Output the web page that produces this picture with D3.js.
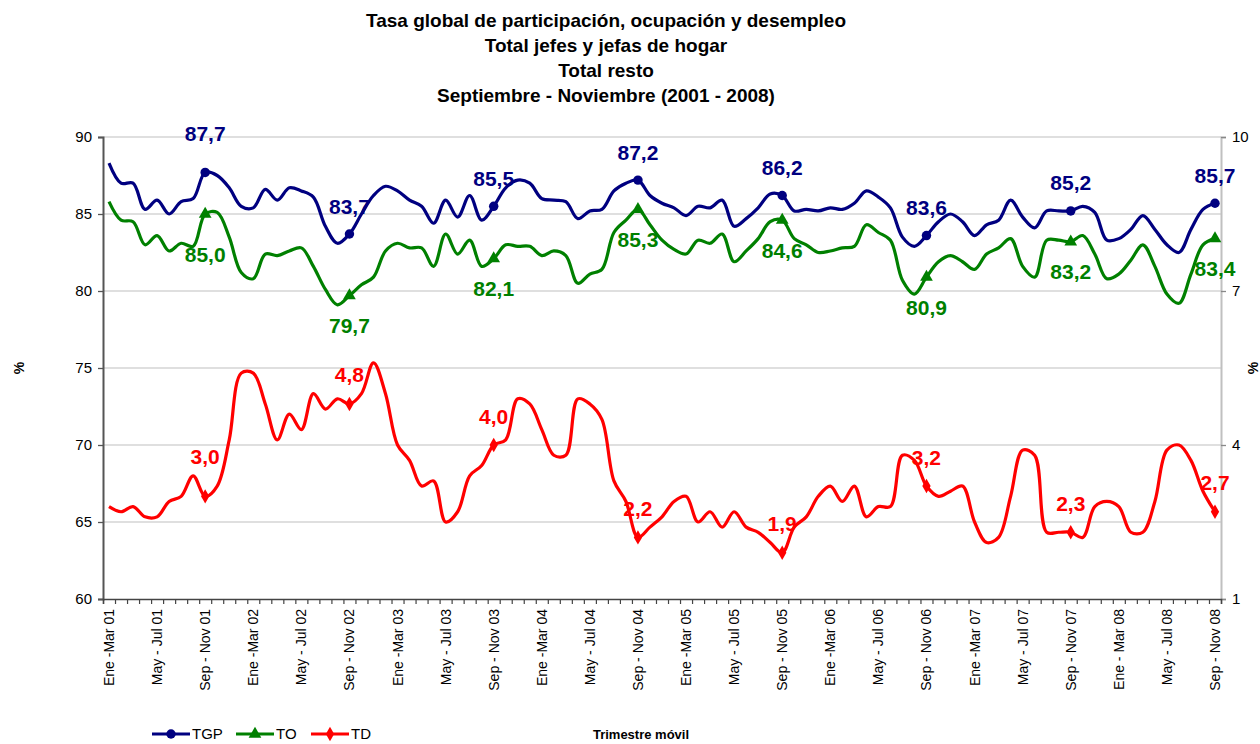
<!DOCTYPE html>
<html>
<head>
<meta charset="utf-8">
<script src="https://cdn.jsdelivr.net/npm/d3@7"></script>
<style>
  body { margin: 0; background: #fff; }
  svg { font-family: "Liberation Sans", Arial, sans-serif; display: block; }
</style>
</head>
<body>
<div id="chart"></div>
<script>
// data, one value per moving quarter (Ene-Mar 01 .. Sep-Nov 08)
const tgp = [88.3, 87.0, 87.0, 85.3, 85.9, 85.0, 85.8, 86.0, 87.7, 87.5, 86.7, 85.5,
  85.4, 86.6, 85.9, 86.7, 86.5, 86.1, 84.2, 83.1, 83.7, 85.0, 86.2, 86.8,
  86.5, 85.9, 85.5, 84.4, 85.9, 84.8, 86.2, 84.6, 85.5, 86.7, 87.2, 87.0,
  86.0, 85.9, 85.8, 84.7, 85.2, 85.3, 86.5, 87.0, 87.2, 86.2, 85.7, 85.4,
  84.9, 85.5, 85.4, 85.9, 84.2, 84.7, 85.4, 86.3, 86.2, 85.2, 85.3, 85.2,
  85.4, 85.3, 85.7, 86.5, 86.1, 85.4, 83.5, 82.9, 83.6, 84.5, 85.0, 84.5,
  83.6, 84.3, 84.6, 85.9, 84.8, 84.1, 85.2, 85.2, 85.2, 85.5, 85.1, 83.3,
  83.4, 84.0, 84.9, 84.0, 83.0, 82.5, 84.0, 85.3, 85.7]

const to = [85.8, 84.6, 84.5, 83.0, 83.6, 82.6, 83.1, 82.9, 85.0, 85.1, 83.5, 81.2,
  80.8, 82.4, 82.3, 82.6, 82.8, 81.6, 80.1, 79.1, 79.7, 80.4, 80.9, 82.6,
  83.1, 82.8, 82.8, 81.6, 83.7, 82.4, 83.3, 81.6, 82.1, 83.0, 82.9, 82.9,
  82.3, 82.6, 82.3, 80.5, 81.1, 81.4, 83.8, 84.6, 85.3, 84.3, 83.3, 82.7,
  82.4, 83.3, 83.1, 83.7, 81.9, 82.6, 83.4, 84.5, 84.6, 83.4, 83.0, 82.5,
  82.6, 82.8, 82.9, 84.3, 83.8, 83.3, 80.7, 79.8, 80.9, 81.9, 82.3, 81.9,
  81.4, 82.4, 82.8, 83.4, 81.6, 80.9, 83.3, 83.3, 83.2, 83.6, 82.4, 80.8,
  81.1, 82.0, 83.0, 81.6, 79.8, 79.2, 81.1, 83.0, 83.4]

const td = [2.8, 2.7, 2.8, 2.6, 2.6, 2.9, 3.0, 3.4, 3.0, 3.2, 4.1, 5.4,
  5.4, 4.8, 4.1, 4.6, 4.3, 5.0, 4.7, 4.9, 4.8, 5.0, 5.6, 5.0,
  4.0, 3.7, 3.2, 3.3, 2.5, 2.7, 3.4, 3.6, 4.0, 4.1, 4.9, 4.8,
  4.3, 3.8, 3.8, 4.9, 4.8, 4.5, 3.3, 2.9, 2.2, 2.4, 2.6, 2.9,
  3.0, 2.5, 2.7, 2.4, 2.7, 2.4, 2.3, 2.1, 1.9, 2.4, 2.6, 3.0,
  3.2, 2.9, 3.2, 2.6, 2.8, 2.8, 3.8, 3.7, 3.2, 3.0, 3.1, 3.2,
  2.5, 2.1, 2.2, 3.0, 3.9, 3.8, 2.3, 2.3, 2.3, 2.2, 2.8, 2.9,
  2.8, 2.3, 2.3, 2.9, 3.9, 4.0, 3.7, 3.1, 2.7]

const tickLabels = ["Ene -Mar 01", "May - Jul 01", "Sep - Nov 01",
  "Ene -Mar 02", "May - Jul 02", "Sep - Nov 02",
  "Ene -Mar 03", "May - Jul 03", "Sep - Nov 03",
  "Ene -Mar 04", "May - Jul 04", "Sep - Nov 04",
  "Ene -Mar 05", "May - Jul 05", "Sep - Nov 05",
  "Ene -Mar 06", "May - Jul 06", "Sep - Nov 06",
  "Ene -Mar 07", "May - Jul 07", "Sep - Nov 07",
  "Ene - Mar 08", "May - Jul 08", "Sep - Nov 08"]

// Sep - Nov quarters carry a marker and a label
const markedIdx = [8, 20, 32, 44, 56, 68, 80, 92]

const leftTicks = [60, 65, 70, 75, 80, 85, 90]
const rightTicks = [1, 4, 7, 10]

const titleLines = ["Tasa global de participación, ocupación y desempleo",
  "Total jefes y jefas de hogar", "Total resto",
  "Septiembre - Noviembre (2001 - 2008)"]

// layout
const W = 1260, H = 744
const plot = {left: 103, right: 1221, top: 137, bottom: 599}

const svg = d3.select("#chart").append("svg")
    .attr("width", W)
    .attr("height", H)

const x = d3.scaleBand()
    .domain(d3.range(tgp.length))
    .range([plot.left, plot.right])
    .padding(0)
const xc = i => x(i) + x.bandwidth() / 2

const xEdges = d3.scaleLinear()
    .domain([0, tgp.length])
    .range([plot.left, plot.right])

const yL = d3.scaleLinear().domain([60, 90]).range([plot.bottom, plot.top])
const yR = d3.scaleLinear().domain([1, 10]).range([plot.bottom, plot.top])

// gridlines
svg.append("g")
    .selectAll("line")
    .data(leftTicks.filter(d => d > 60))
    .join("line")
        .attr("x1", plot.left).attr("x2", plot.right)
        .attr("y1", d => yL(d)).attr("y2", d => yL(d))
        .attr("stroke", "#c0c0c0")
        .attr("stroke-width", 1.2)

// left axis
const yAxisL = d3.axisLeft(yL).tickValues(leftTicks).tickSize(5).tickPadding(6)
const gL = svg.append("g")
    .attr("transform", `translate(${plot.left},0)`)
    .call(yAxisL)
gL.select(".domain").attr("stroke", "#555").attr("stroke-width", 2)
gL.selectAll(".tick line").attr("stroke", "#555").attr("stroke-width", 1.3)
gL.selectAll("text").attr("font-size", 15).attr("fill", "#000")

// right axis
const yAxisR = d3.axisRight(yR).tickValues(rightTicks).tickSize(5).tickPadding(6)
const gR = svg.append("g")
    .attr("transform", `translate(${plot.right},0)`)
    .call(yAxisR)
gR.select(".domain").attr("stroke", "#c0c0c0").attr("stroke-width", 2)
gR.selectAll(".tick line").attr("stroke", "#888").attr("stroke-width", 1.3)
gR.selectAll("text").attr("font-size", 15).attr("fill", "#000")

// bottom axis: ticks on category boundaries
const xAxisTicks = d3.axisBottom(xEdges).tickValues(d3.range(tgp.length + 1))
    .tickSize(5).tickFormat("")
const gB = svg.append("g")
    .attr("transform", `translate(0,${plot.bottom})`)
    .call(xAxisTicks)
gB.select(".domain").attr("stroke", "#444").attr("stroke-width", 1.5)
gB.selectAll(".tick line").attr("stroke", "#444").attr("stroke-width", 1.2)

// category labels every four quarters
svg.append("g")
    .selectAll("text")
    .data(tickLabels)
    .join("text")
        .attr("transform", (d, k) => `translate(${xc(k * 4) + 5},${plot.bottom + 10}) rotate(-90)`)
        .attr("text-anchor", "end")
        .attr("font-size", 14)
        .text(d => d)

// series
const series = [
  {name: "TGP", values: tgp, y: yL, color: "#000080", symbol: d3.symbolCircle, size: 70, dy: -28},
  {name: "TO", values: to, y: yL, color: "#008000", symbol: d3.symbolTriangle, size: 70, dy: 30},
  {name: "TD", values: td, y: yR, color: "#ff0000", symbol: d3.symbolDiamond, size: 60, dy: -29}
]
const fmt = d3.format(".1f")

const line = d3.line()
    .curve(d3.curveCatmullRom.alpha(0.5))

series.forEach(s => {
  line.x((d, i) => xc(i)).y(d => s.y(d))

  svg.append("path")
      .datum(s.values)
      .attr("fill", "none")
      .attr("stroke", s.color)
      .attr("stroke-width", 3.2)
      .attr("stroke-linejoin", "round")
      .attr("d", line)

  svg.append("g")
      .selectAll("path")
      .data(markedIdx)
      .join("path")
          .attr("transform", i => `translate(${xc(i)},${s.y(s.values[i])})`)
          .attr("d", d3.symbol(s.symbol, s.size))
          .attr("fill", s.color)

  // first year labels sit a bit further from the curve
  const nudge = i => (i === 8 ? (s.dy > 0 ? 10 : -11) : 0)
  svg.append("g")
      .selectAll("text")
      .data(markedIdx)
      .join("text")
          .attr("x", i => xc(i))
          .attr("y", i => s.y(s.values[i]) + s.dy + nudge(i))
          .attr("dy", "0.36em")
          .attr("text-anchor", "middle")
          .attr("font-size", 21)
          .attr("font-weight", "bold")
          .attr("fill", s.color)
          .text(i => fmt(s.values[i]).replace(".", ","))
})

// title
svg.append("g")
    .selectAll("text")
    .data(titleLines)
    .join("text")
        .attr("x", 606)
        .attr("y", (d, i) => 27 + i * 25)
        .attr("text-anchor", "middle")
        .attr("font-size", 19)
        .attr("font-weight", "bold")
        .text(d => d)

// axis titles
svg.append("text")
    .attr("transform", "translate(24,368) rotate(-90)")
    .attr("text-anchor", "middle")
    .attr("font-size", 14)
    .attr("font-weight", "bold")
    .text("%")

svg.append("text")
    .attr("transform", "translate(1258,368) rotate(-90)")
    .attr("text-anchor", "middle")
    .attr("font-size", 14)
    .attr("font-weight", "bold")
    .text("%")

svg.append("text")
    .attr("x", 641)
    .attr("y", 739)
    .attr("text-anchor", "middle")
    .attr("font-size", 13)
    .attr("font-weight", "bold")
    .text("Trimestre móvil")

// legend
const legend = svg.append("g")
    .selectAll("g")
    .data(series)
    .join("g")
        .attr("transform", (d, i) => `translate(${[152, 236, 311][i]},734)`)

legend.append("line")
    .attr("x1", 0).attr("x2", 38)
    .attr("stroke", d => d.color)
    .attr("stroke-width", 3.2)

legend.append("path")
    .attr("transform", "translate(19,0)")
    .attr("d", d => d3.symbol(d.symbol, d.size)())
    .attr("fill", d => d.color)

legend.append("text")
    .attr("x", 40)
    .attr("dy", "0.36em")
    .attr("font-size", 15)
    .text(d => d.name)
</script>
</body>
</html>
